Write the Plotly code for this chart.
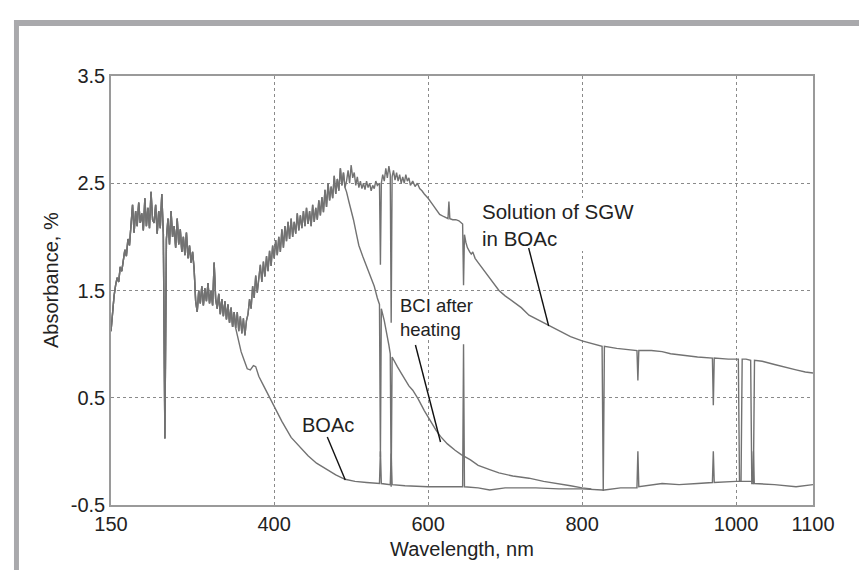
import plotly.graph_objects as go

# ---------------- data ----------------
# shared noisy part of the three spectra, 188..492 nm every 2 nm
common_wl = list(range(188, 494, 2))
common_abs = [
    1.12, 1.30, 1.45, 1.55, 1.62, 1.58, 1.72, 1.68, 1.80, 1.88,   # 188-206
    1.82, 1.98, 1.92, 2.12, 2.30, 2.04, 2.24, 2.10, 2.32, 2.13,   # 208-226
    2.22, 2.06, 2.36, 2.10, 2.27, 2.08, 2.42, 2.16, 2.13, 2.30,   # 228-246
    2.03, 2.24, 2.08, 2.40, 2.03, 0.12, 1.98, 2.17, 1.93, 2.24,   # 248-266
    2.00, 2.10, 1.90, 2.17, 1.93, 2.07, 1.86, 2.00, 1.83, 2.04,   # 268-286
    1.80, 1.92, 1.76, 1.86, 1.70, 1.40, 1.30, 1.50, 1.38, 1.54,   # 288-306
    1.36, 1.52, 1.40, 1.57, 1.38, 1.50, 1.36, 1.76, 1.42, 1.33,   # 308-326
    1.47, 1.28, 1.42, 1.26, 1.40, 1.23, 1.37, 1.20, 1.34, 1.16,   # 328-346
    1.30, 1.15, 1.30, 1.12, 1.26, 1.10, 1.24, 1.08, 1.22, 1.28,   # 348-366
    1.42, 1.33, 1.54, 1.43, 1.64, 1.48, 1.60, 1.74, 1.58, 1.77,   # 368-386
    1.63, 1.82, 1.68, 1.87, 1.73, 1.92, 1.80, 1.97, 1.83, 2.00,   # 388-406
    1.86, 2.07, 1.90, 2.10, 1.96, 2.14, 1.98, 2.17, 2.00, 2.14,   # 408-426
    2.03, 2.22, 2.06, 2.20, 2.08, 2.24, 2.10, 2.27, 2.12, 2.24,   # 428-446
    2.10, 2.30, 2.14, 2.27, 2.16, 2.34, 2.20, 2.37, 2.23, 2.44,   # 448-466
    2.28, 2.50, 2.34, 2.47, 2.36, 2.57, 2.40, 2.54, 2.43, 2.64,   # 468-486
    2.48, 2.60, 2.46,                                             # 488-492
]

# BOAc leaves the shared curve at 350 nm
boac_split_wl = 350
boac_tail_wl = [353, 357, 361, 365, 369, 373, 376, 380, 385, 390, 395, 401, 410, 422,
                433, 444, 455, 466, 480, 492, 505, 520, 536.8, 538, 539.2, 550.8, 552,
                553.2, 570, 600, 644.8, 646, 647.2, 665, 680, 700, 740, 770, 800, 826,
                829, 850, 871.3, 872.5, 873.7, 904, 926, 950, 969.3, 970.5, 971.7, 1000,
                1013, 1021.3, 1022.5, 1023.7, 1050, 1078, 1100]
boac_tail_abs = [1.05, 0.93, 0.85, 0.77, 0.76, 0.80, 0.79, 0.70, 0.63, 0.56, 0.49, 0.40,
                 0.28, 0.13, 0.04, -0.04, -0.11, -0.16, -0.22, -0.26, -0.28, -0.29, -0.30,
                 0.00, -0.30, -0.31, -0.02, -0.31, -0.32, -0.33, -0.33, 1.00, -0.33, -0.34,
                 -0.36, -0.34, -0.34, -0.35, -0.35, -0.36, -0.36, -0.34, -0.34, 0.00, -0.33,
                 -0.30, -0.31, -0.30, -0.29, 0.00, -0.29, -0.28, -0.28, -0.28, 0.00, -0.30,
                 -0.31, -0.33, -0.31]

# BCI after heating leaves the shared curve at 492 nm
bci_tail_wl = [494, 497, 500, 503, 507, 510, 515, 520, 525, 530, 534, 536.8, 538, 539.2,
               543, 546, 549, 550.8, 552, 553.2, 556, 560, 565, 570, 575, 580, 587, 595,
               603, 610, 616, 625, 635, 643, 655, 665, 680, 692, 710, 731, 750, 770, 785,
               800, 812]
bci_tail_abs = [2.42, 2.33, 2.25, 2.16, 2.02, 1.92, 1.82, 1.72, 1.64, 1.54, 1.43, 1.37,
                -0.05, 1.33, 1.22, 1.12, 0.99, 0.91, -0.33, 0.88, 0.84, 0.79, 0.73, 0.67,
                0.61, 0.57, 0.49, 0.38, 0.28, 0.20, 0.14, 0.07, 0.01, -0.03, -0.08, -0.13,
                -0.17, -0.20, -0.23, -0.25, -0.28, -0.30, -0.32, -0.34, -0.35]

# Solution of SGW in BOAc: noisy plateau 494..598 nm
sgw_mid_wl = [494, 496, 498, 500, 502, 504, 506, 508, 510, 512, 514, 516, 518, 520, 522,
              524, 526, 528, 530, 532, 534, 536.8, 538, 539.2, 541, 543, 545, 547, 549,
              550.8, 552, 553.2, 555, 557, 559, 561, 563, 565, 567, 569, 571, 573, 575,
              577, 580, 583, 586, 589, 592, 595, 598]
sgw_mid_abs = [2.52, 2.62, 2.50, 2.67, 2.55, 2.60, 2.48, 2.56, 2.46, 2.52, 2.45, 2.50,
               2.44, 2.52, 2.46, 2.50, 2.43, 2.48, 2.45, 2.52, 2.48, 2.50, 1.74, 2.50,
               2.58, 2.52, 2.64, 2.55, 2.66, 2.58, 1.20, 2.56, 2.62, 2.53, 2.60, 2.52,
               2.58, 2.50, 2.56, 2.50, 2.58, 2.52, 2.55, 2.48, 2.52, 2.47, 2.50, 2.45,
               2.43, 2.40, 2.38]

# Solution of SGW in BOAc: smooth tail 600..1100 nm
sgw_tail_wl = [600, 605, 610, 615, 620, 624, 625.8, 627, 628.2, 632, 636, 640, 644.8, 646,
               647.2, 649, 651, 654, 656, 658, 661, 665, 668, 672, 680, 692, 700, 710, 721,
               731, 744, 757, 770, 785, 800, 815, 826, 827.5, 829, 845, 861, 871.3, 872.5,
               873.7, 890, 904, 915, 926, 950, 969.3, 970.5, 971.7, 990, 1003, 1004.5,
               1006.5, 1008, 1013, 1019, 1020.5, 1022.5, 1024, 1034, 1050, 1065, 1078,
               1090, 1100]
sgw_tail_abs = [2.36, 2.31, 2.26, 2.21, 2.19, 2.18, 2.17, 2.33, 2.17, 2.16, 2.16, 2.15,
                2.12, 1.55, 2.02, 1.95, 1.90, 1.86, 1.84, 1.86, 1.80, 1.76, 1.73, 1.70,
                1.62, 1.50, 1.45, 1.40, 1.34, 1.27, 1.22, 1.17, 1.12, 1.07, 1.03, 1.00,
                0.98, -0.37, 0.98, 0.96, 0.95, 0.94, 0.66, 0.94, 0.94, 0.93, 0.91, 0.90,
                0.88, 0.87, 0.43, 0.87, 0.86, 0.86, -0.28, -0.28, 0.86, 0.86, 0.85, -0.30,
                -0.30, 0.85, 0.84, 0.81, 0.78, 0.76, 0.74, 0.73]

# axis ticks (the left end of the original axis is labelled 150)
x_tickvals = [188, 400, 600, 800, 1000, 1100]
x_ticktext = ["150", "400", "600", "800", "1000", "1100"]
y_tickvals = [-0.5, 0.5, 1.5, 2.5, 3.5]
y_ticktext = ["-0.5", "0.5", "1.5", "2.5", "3.5"]

# ---------------- build series ----------------
k = common_wl.index(boac_split_wl)
boac_wl = common_wl[:k + 1] + boac_tail_wl
boac_abs = common_abs[:k + 1] + boac_tail_abs
bci_wl = common_wl + bci_tail_wl
bci_abs = common_abs + bci_tail_abs
sgw_wl = common_wl + sgw_mid_wl + sgw_tail_wl
sgw_abs = common_abs + sgw_mid_abs + sgw_tail_abs

LINE = "#727272"
FONT = "Liberation Sans, Arial, sans-serif"
TXT = "#222222"

fig = go.Figure()
for name, xs, ys in [("BOAc", boac_wl, boac_abs),
                     ("BCI after heating", bci_wl, bci_abs),
                     ("Solution of SGW in BOAc", sgw_wl, sgw_abs)]:
    fig.add_trace(go.Scatter(x=xs, y=ys, mode="lines", name=name,
                             line=dict(color=LINE, width=1.4), showlegend=False))

# white boxes behind the callout texts
label_boxes = [(665.5, 886.8, 1.868, 2.362),
               (554.9, 675.9, 1.057, 1.449),
               (431.2, 511.9, 0.125, 0.358)]
for x0, x1, y0, y1 in label_boxes:
    fig.add_shape(type="rect", xref="x", yref="y", x0=x0, x1=x1, y0=y0, y1=y1,
                  fillcolor="white", line=dict(width=0), layer="above")

# callout pointer lines
pointers = [((730.6, 1.896), (756.6, 1.169)),
            ((583.5, 0.992), (616.1, 0.087)),
            ((469.0, 0.134), (492.4, -0.267))]
for (x0, y0), (x1, y1) in pointers:
    fig.add_shape(type="line", xref="x", yref="y", x0=x0, y0=y0, x1=x1, y1=y1,
                  line=dict(color="#111111", width=1.4), layer="above")

labels = [("Solution of SGW<br>in BOAc", 669.0, 2.110, 20.5),
          ("BCI after<br>heating", 562.0, 1.248, 18.5),
          ("BOAc", 435.0, 0.246, 20)]
for t, x, y, s in labels:
    fig.add_annotation(x=x, y=y, xref="x", yref="y", text=t, showarrow=False,
                       xanchor="left", yanchor="middle", align="left",
                       borderpad=0,
                       font=dict(family=FONT, size=s, color=TXT))

# y-axis title (sits a little above the plot centre in the original)
fig.add_annotation(x=-0.0855, y=0.5245, xref="paper", yref="paper",
                   text="Absorbance, %", textangle=-90, showarrow=False,
                   xanchor="center", yanchor="middle",
                   font=dict(family=FONT, size=20, color=TXT))

# grey frame of the figure panel
fig.add_shape(type="rect", xref="paper", yref="paper",
              x0=-0.1382, x1=-0.1311, y0=-0.20, y1=1.1305,
              fillcolor="#a9a9ac", line=dict(width=0), layer="above")
fig.add_shape(type="rect", xref="paper", yref="paper",
              x0=-0.1382, x1=1.10, y0=1.1166, y1=1.1305,
              fillcolor="#a9a9ac", line=dict(width=0), layer="above")

axis_common = dict(showline=True, linecolor="#9a9a9a", linewidth=1.5, mirror=True,
                   showgrid=True, gridcolor="#8a8a8a", gridwidth=1, griddash="dot",
                   zeroline=False, ticks="",
                   tickfont=dict(family=FONT, size=20, color=TXT))

fig.update_layout(
    width=867, height=570,
    margin=dict(l=103, r=62, t=68, b=73),
    paper_bgcolor="white", plot_bgcolor="white",
    font=dict(family=FONT, color=TXT),
    xaxis=dict(range=[188, 1100], tickvals=x_tickvals, ticktext=x_ticktext,
               title=dict(text="Wavelength, nm", font=dict(family=FONT, size=20, color=TXT),
                          standoff=8),
               **axis_common),
    yaxis=dict(range=[-0.5, 3.5], tickvals=y_tickvals, ticktext=y_ticktext,
               **axis_common),
)

fig.write_html("out.html")
